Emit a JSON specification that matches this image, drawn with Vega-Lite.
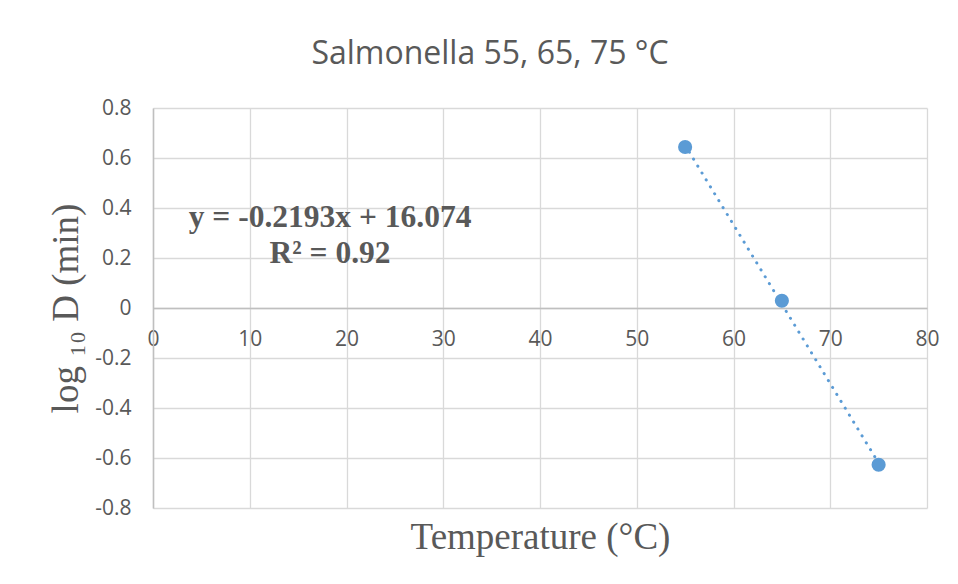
{
  "$schema": "https://vega.github.io/schema/vega-lite/v6.json",
  "width": 774,
  "height": 400,
  "autosize": {"type": "none"},
  "padding": {"left": 153, "top": 108, "right": 31, "bottom": 76},
  "background": "white",
  "title": {
    "text": "Salmonella 55, 65, 75 °C",
    "font": "Open Sans",
    "fontSize": 32,
    "fontWeight": "normal",
    "color": "#595959",
    "anchor": "middle",
    "frame": "group",
    "baseline": "alphabetic",
    "offset": 42,
    "dx": -50,
    "dy": 41
  },
  "datasets": {
    "points": [
      {"temp": 55, "log10D": 0.644},
      {"temp": 65, "log10D": 0.029},
      {"temp": 75, "log10D": -0.627}
    ],
    "notes": [
      {"temp": 18.3, "log10D": 0.324, "label": "y = -0.2193x + 16.074"},
      {"temp": 18.3, "log10D": 0.18, "label": "R² = 0.92"}
    ]
  },
  "config": {
    "view": {"stroke": null},
    "axis": {
      "labelFont": "Open Sans",
      "labelFontSize": 21,
      "labelColor": "#595959",
      "gridColor": "#d9d9d9",
      "gridWidth": 1.3,
      "domainColor": "#bfbfbf",
      "domainWidth": 1.5,
      "ticks": false,
      "titleFont": "Liberation Serif",
      "titleFontSize": 37,
      "titleFontWeight": "normal",
      "titleColor": "#595959"
    }
  },
  "encoding": {
    "x": {
      "field": "temp",
      "type": "quantitative",
      "scale": {"domain": [0, 80], "nice": false, "zero": false},
      "axis": {
        "values": [0, 10, 20, 30, 40, 50, 60, 70, 80],
        "offset": -200,
        "labelPadding": 20,
        "labelBaseline": "top",
        "labelFlush": false,
        "title": "Temperature (°C)",
        "titleX": 387,
        "titleY": 240,
        "titleBaseline": "alphabetic",
        "titleAnchor": "middle"
      }
    },
    "y": {
      "field": "log10D",
      "type": "quantitative",
      "scale": {"domain": [-0.8, 0.8], "nice": false, "zero": false},
      "axis": {
        "values": [-0.8, -0.6, -0.4, -0.2, 0, 0.2, 0.4, 0.6, 0.8],
        "labelExpr": "datum.value == 0 ? '0' : (datum.value < 0 ? '-' + format(-datum.value, '.1f') : format(datum.value, '.1f'))",
        "labelPadding": 22,
        "labelFlush": false,
        "title": "log ₁₀ D (min)",
        "titleAngle": -90,
        "titleX": -76,
        "titleY": 200,
        "titleBaseline": "alphabetic",
        "titleAlign": "center"
      }
    }
  },
  "layer": [
    {
      "data": {"name": "points"},
      "transform": [{"regression": "log10D", "on": "temp"}],
      "mark": {
        "type": "line",
        "color": "#5B9BD5",
        "strokeWidth": 3,
        "strokeDash": [0.1, 8],
        "strokeCap": "round"
      }
    },
    {
      "data": {"name": "points"},
      "mark": {"type": "point", "filled": true, "opacity": 1, "color": "#5B9BD5", "size": 200}
    },
    {
      "data": {"name": "notes"},
      "mark": {
        "type": "text",
        "font": "Liberation Serif",
        "fontSize": 31.5,
        "fontWeight": "bold",
        "color": "#595959",
        "align": "center",
        "baseline": "alphabetic"
      },
      "encoding": {"text": {"field": "label"}}
    }
  ]
}
